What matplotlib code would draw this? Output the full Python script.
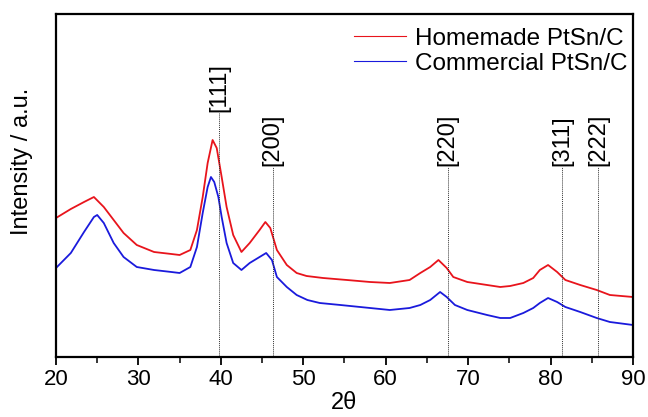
import matplotlib
matplotlib.use("Agg")
import matplotlib.pyplot as plt
import numpy as np

plt.rcParams["font.family"] = ["Liberation Sans", "DejaVu Sans"]

# XRD patterns (2theta in degrees, intensity in a.u.)
homemade_2theta = [20, 21.8, 23.4, 24.6, 25.8, 27, 28.2, 29.8, 31.9, 34, 35, 36.3,
                   37.1, 37.8, 38.4, 39.0, 39.5, 40.1, 40.7, 41.5, 42.5, 43.5,
                   44.7, 45.4, 46.0, 46.8, 48, 49.2, 50.4, 52.4, 55.3, 58.1,
                   60.5, 62.9, 64.2, 65.4, 66.4, 67.4, 68.2, 69.9, 72.3, 73.9,
                   75.1, 76.7, 77.9, 78.7, 79.7, 80.8, 81.8, 83.6, 85.6, 87.2, 90]
homemade_int = [139, 148, 155, 160, 150, 137, 124, 112, 105, 103, 102, 107,
                127, 160, 194, 217, 209, 180, 150, 122, 105, 114,
                127, 135, 129, 107, 92, 84, 81, 79, 77, 75,
                74, 77, 84, 90, 97, 89, 80, 75, 72, 70,
                71, 74, 79, 87, 92, 85, 77, 72, 67, 62, 60]

commercial_2theta = [20, 21.8, 23.4, 24.6, 25, 25.8, 27, 28.2, 29.8, 31.9, 34, 35,
                     36.3, 37.1, 37.8, 38.4, 38.8, 39.2, 39.7, 40.1, 40.7, 41.5,
                     42.5, 43.5, 44.7, 45.5, 46.2, 46.8, 48, 49.2, 50.5, 52,
                     54.5, 58.1, 60.5, 62.9, 64.2, 65.4, 66.6, 67.4, 68.4, 69.9,
                     72.3, 73.9, 75.1, 76.7, 77.9, 78.7, 79.7, 80.8, 81.8, 83.6,
                     85.6, 87.2, 90]
commercial_int = [89, 104, 125, 140, 142, 134, 114, 100, 90, 87, 85, 84,
                  90, 110, 144, 170, 180, 175, 160, 140, 114, 94,
                  87, 94, 100, 104, 97, 80, 70, 62, 57, 54,
                  52, 49, 47, 49, 52, 57, 65, 60, 52, 47,
                  42, 39, 39, 44, 49, 54, 59, 55, 50, 45,
                  39, 35, 32]

# reflections of the Pt fcc lattice
peak_labels = ["[111]", "[200]", "[220]", "[311]", "[222]"]
peak_pos = [39.8, 46.3, 67.5, 81.4, 85.8]
peak_top = [244, 190, 190, 190, 190]

fig = plt.figure(figsize=(6.48, 4.17), dpi=100)
ax = fig.add_axes([0.0864, 0.1439, 0.8904, 0.8225])

ax.plot(homemade_2theta, homemade_int, color="#e8141c", lw=1.3,
        label="Homemade PtSn/C")
ax.plot(commercial_2theta, commercial_int, color="#1a1adc", lw=1.3,
        label="Commercial PtSn/C")

for lab, x, top in zip(peak_labels, peak_pos, peak_top):
    ax.plot([x, x], [0, top], color="#333333", lw=0.7, ls=(0, (1, 1)))
    ax.text(x, top + 1, lab, rotation=90, ha="center", va="bottom",
            fontsize=17)

ax.set_xlim(20, 90)
ax.set_ylim(0, 343)
ax.set_xticks(np.arange(20, 91, 10))
ax.set_xticks(np.arange(25, 90, 10), minor=True)
ax.set_yticks([])
ax.tick_params(axis="x", which="major", direction="out", length=6, width=1.3,
               labelsize=16, pad=3)
ax.tick_params(axis="x", which="minor", direction="out", length=4, width=1.1)
for s in ax.spines.values():
    s.set_linewidth(1.6)

ax.set_xlabel("2\u03b8", fontsize=17, labelpad=1)
ax.set_ylabel("Intensity / a.u.", fontsize=17)
ax.yaxis.set_label_coords(-0.04, 0.57)

leg = ax.legend(loc="upper right", frameon=False, fontsize=17.5,
                handlelength=2.1, handletextpad=0.4, labelspacing=0.12,
                borderaxespad=0.1, bbox_to_anchor=(1.012, 0.995))
for h in leg.get_lines():
    h.set_linewidth(0.8)

fig.savefig("out.png", dpi=100)
